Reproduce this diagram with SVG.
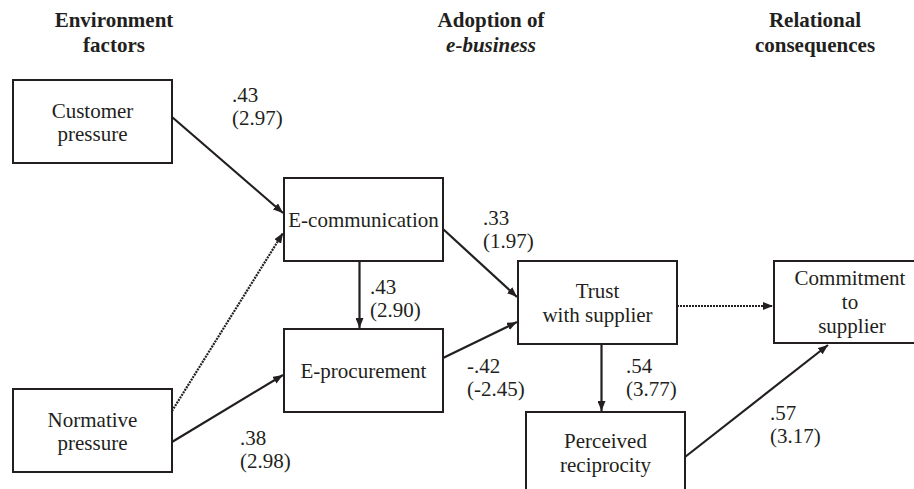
<svg xmlns="http://www.w3.org/2000/svg" width="914" height="489" viewBox="0 0 914 489">
<defs>
<style>
.box{fill:#fff;stroke:#231f20;stroke-width:2}
.t{font-family:"Liberation Serif","Times New Roman",serif;font-size:21px;fill:#231f20}
.c{text-anchor:middle}
.h{font-weight:bold}
.e{stroke:#231f20;stroke-width:2.2;fill:none}
.d{stroke-dasharray:2 1}
</style>
<marker id="ah" viewBox="0 0 10 8" refX="10" refY="4" markerWidth="10" markerHeight="8" markerUnits="userSpaceOnUse" orient="auto">
<path d="M0,0 L10,4 L0,8 Z" fill="#231f20"/>
</marker>
</defs>
<rect width="914" height="489" fill="#fff"/>
<g id="headers">
<text class="t c h" x="114" y="27">Environment</text>
<text class="t c h" x="114" y="52">factors</text>
<text class="t c h" x="491" y="27">Adoption of</text>
<text class="t c h" x="491" y="52" font-style="italic">e-business</text>
<text class="t c h" x="815" y="27">Relational</text>
<text class="t c h" x="815" y="52">consequences</text>
</g>
<g id="connectors">
<line class="e" x1="172" y1="117" x2="283" y2="213" marker-end="url(#ah)"/>
<line class="e d" x1="172" y1="411" x2="283" y2="233" marker-end="url(#ah)"/>
<line class="e" x1="172" y1="442" x2="283" y2="375" marker-end="url(#ah)"/>
<line class="e" x1="359.5" y1="261" x2="359.5" y2="328" marker-end="url(#ah)"/>
<line class="e" x1="443" y1="229" x2="517" y2="297" marker-end="url(#ah)"/>
<line class="e" x1="443" y1="358" x2="517" y2="322" marker-end="url(#ah)"/>
<line class="e d" x1="677" y1="306" x2="773" y2="306" marker-end="url(#ah)"/>
<line class="e" x1="601.5" y1="344" x2="601.5" y2="411" marker-end="url(#ah)"/>
<line class="e" x1="685" y1="457" x2="828" y2="345" marker-end="url(#ah)"/>
</g>
<g id="labels">
<text class="t" x="232" y="102">.43</text>
<text class="t" x="232" y="125">(2.97)</text>
<text class="t" x="483" y="225">.33</text>
<text class="t" x="483" y="248">(1.97)</text>
<text class="t" x="370" y="294">.43</text>
<text class="t" x="370" y="317">(2.90)</text>
<text class="t" x="240" y="445">.38</text>
<text class="t" x="240" y="468">(2.98)</text>
<text class="t" x="467" y="373">-.42</text>
<text class="t" x="467" y="396">(-2.45)</text>
<text class="t" x="626" y="373">.54</text>
<text class="t" x="626" y="396">(3.77)</text>
<text class="t" x="770" y="420">.57</text>
<text class="t" x="770" y="443">(3.17)</text>
</g>
<g id="customer">
<rect class="box" x="13" y="80" width="159" height="83"/>
<text class="t c" x="92.5" y="118">Customer</text>
<text class="t c" x="92.5" y="141">pressure</text>
</g>
<g id="normative">
<rect class="box" x="13" y="389" width="159" height="83"/>
<text class="t c" x="92.5" y="427">Normative</text>
<text class="t c" x="92.5" y="450">pressure</text>
</g>
<g id="ecomm">
<rect class="box" x="284" y="178" width="159" height="83"/>
<text class="t c" x="363.5" y="227">E-communication</text>
</g>
<g id="eproc">
<rect class="box" x="284" y="329" width="159" height="83"/>
<text class="t c" x="363.5" y="378">E-procurement</text>
</g>
<g id="trust">
<rect class="box" x="518" y="261" width="159" height="83"/>
<text class="t c" x="597.5" y="298">Trust</text>
<text class="t c" x="597.5" y="322">with supplier</text>
</g>
<g id="commitment">
<rect class="box" x="774" y="261" width="152" height="82"/>
<text class="t c" x="850" y="285">Commitment</text>
<text class="t c" x="850" y="309">to</text>
<text class="t c" x="852" y="333">supplier</text>
</g>
<g id="reciprocity">
<rect class="box" x="526" y="412" width="159" height="90"/>
<text class="t c" x="605.5" y="448">Perceived</text>
<text class="t c" x="605.5" y="472">reciprocity</text>
</g>
</svg>
